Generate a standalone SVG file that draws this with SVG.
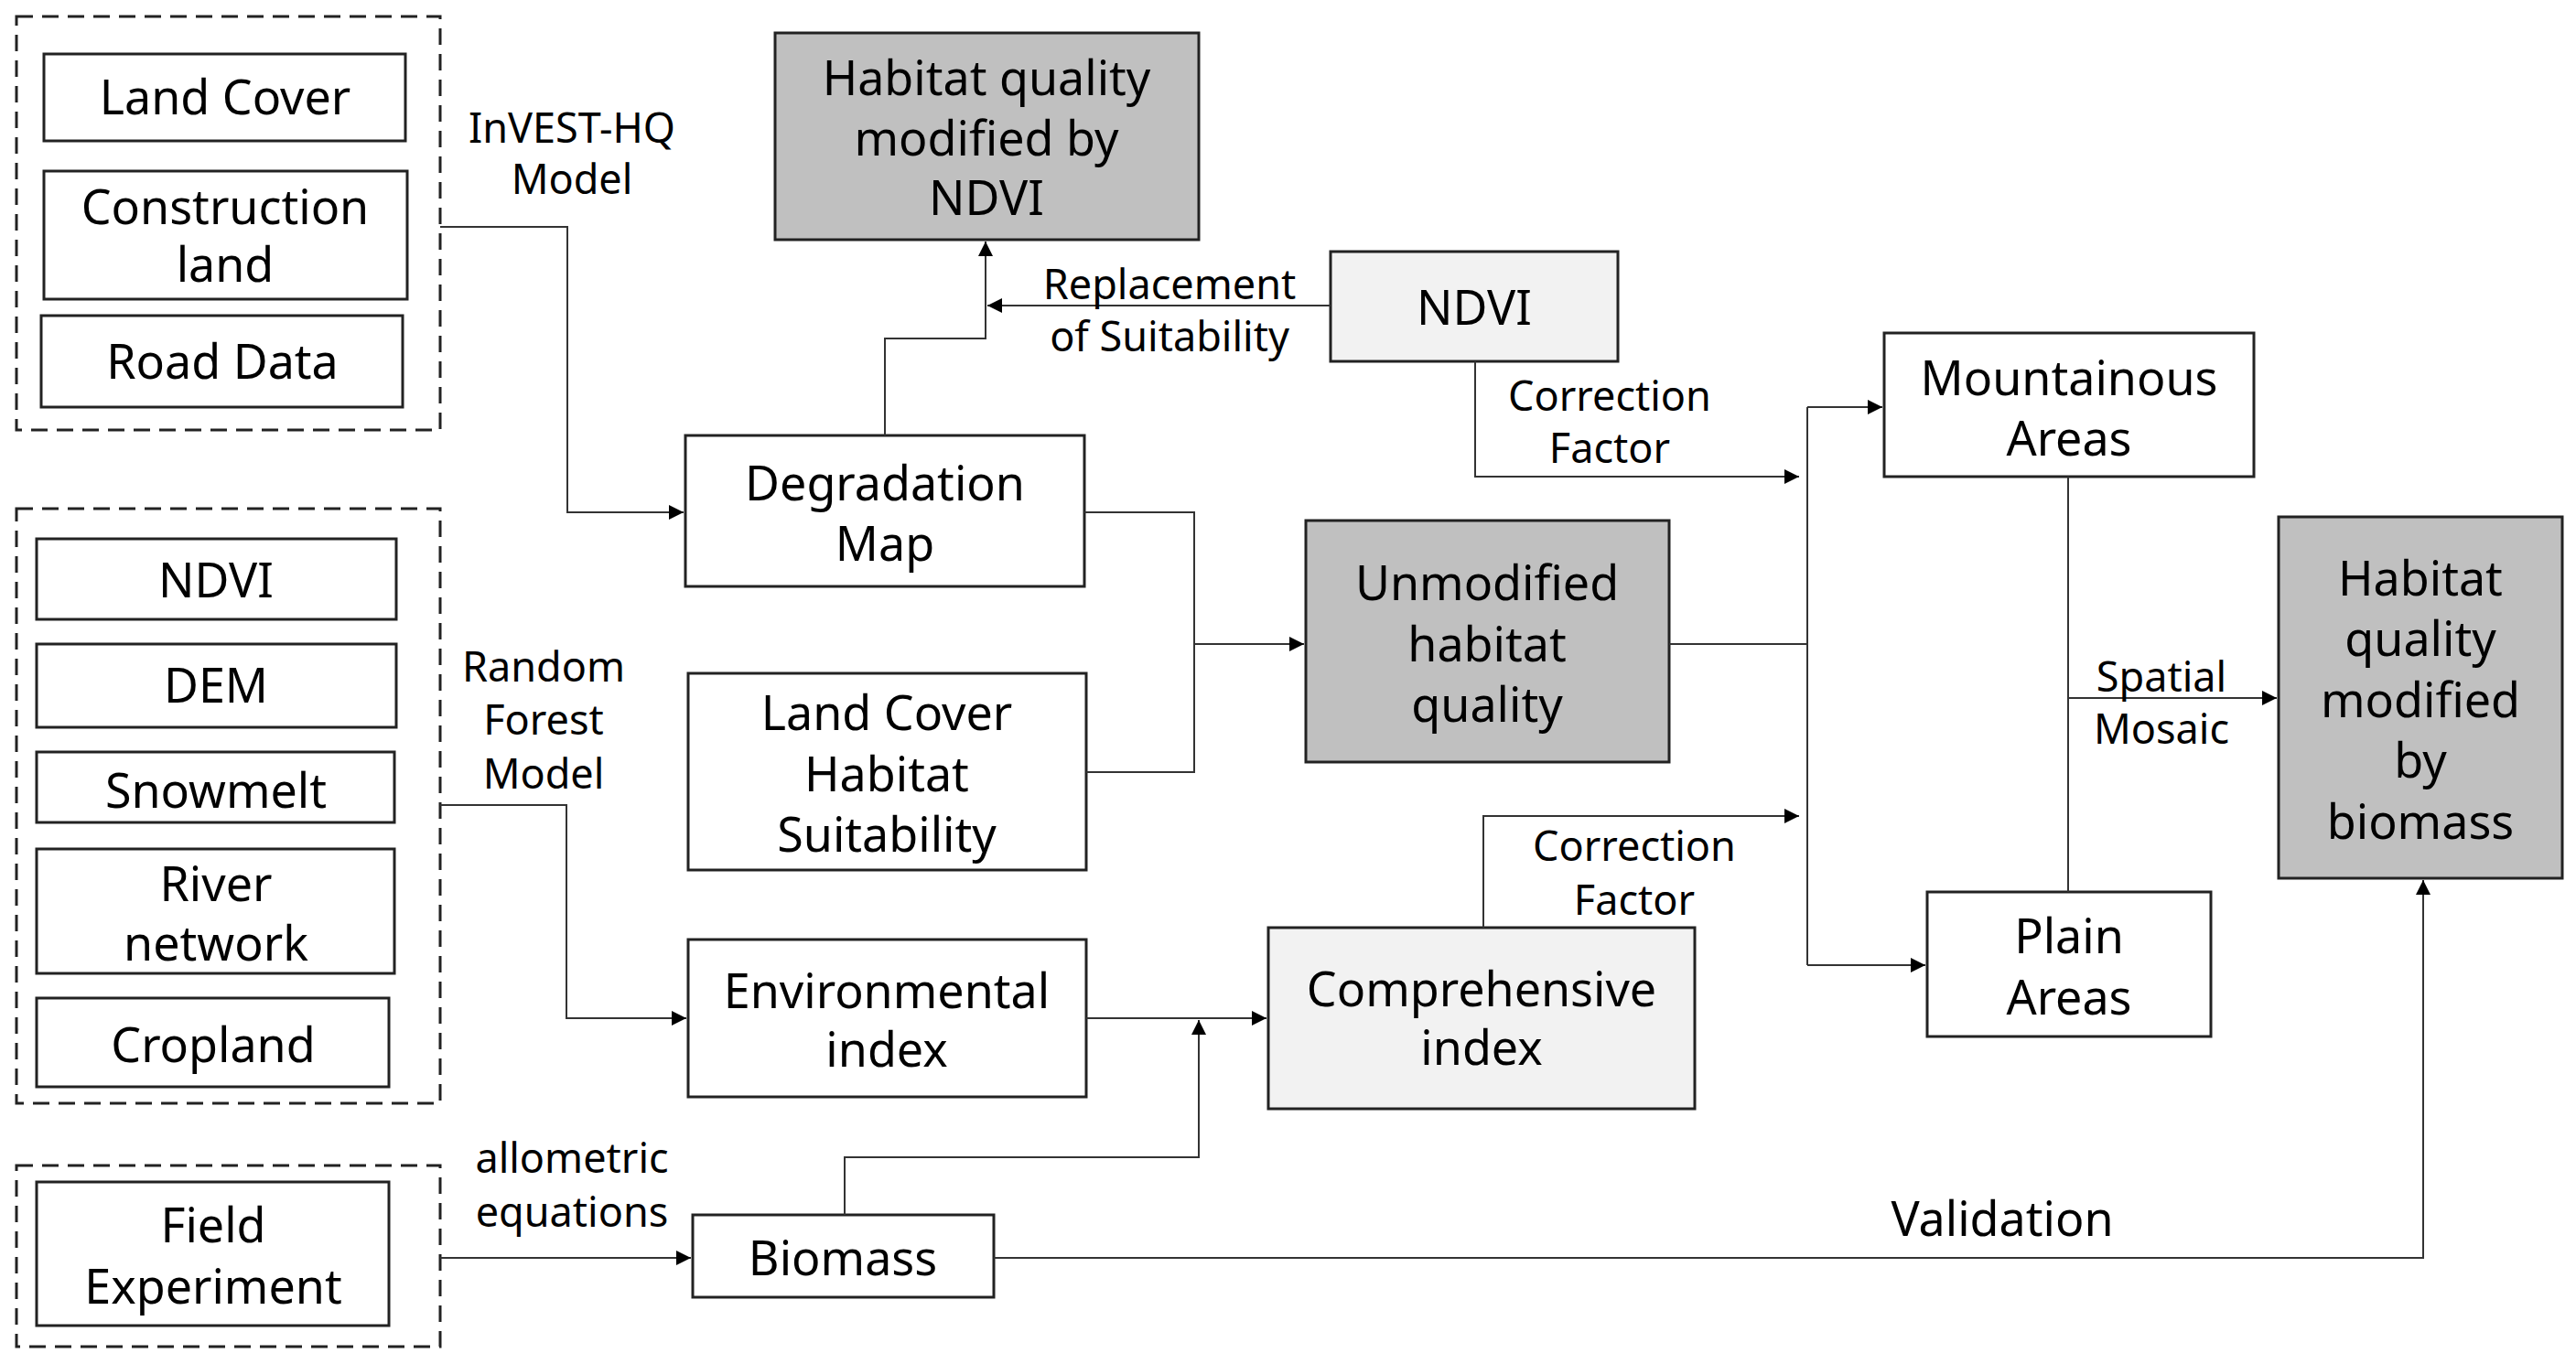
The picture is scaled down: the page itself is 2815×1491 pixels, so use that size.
<svg xmlns="http://www.w3.org/2000/svg" width="2815" height="1491" viewBox="0 0 2815 1491">
<style>
.b{fill:#fff;stroke:#222;stroke-width:3}
.d{fill:#c0c0c0;stroke:#222;stroke-width:3}
.l{fill:#f2f2f2;stroke:#222;stroke-width:3}
.g{fill:none;stroke:#222;stroke-width:3;stroke-dasharray:18 10}
.c{fill:none;stroke:#333;stroke-width:2}
text{font-family:"Noto Sans","Open Sans",sans-serif;fill:#000;text-anchor:middle;dominant-baseline:central}
.t{font-size:52px}
.s{font-size:45px}
</style>
<defs><marker id="a" viewBox="0 0 10 10" refX="10" refY="5" markerWidth="16" markerHeight="16" markerUnits="userSpaceOnUse" orient="auto"><path d="M0,0L10,5L0,10z" fill="#000"/></marker></defs>
<g id="group1"><rect class="g" x="18" y="18" width="463" height="452"/></g>
<g id="group2"><rect class="g" x="18" y="556" width="463" height="650"/></g>
<g id="group3"><rect class="g" x="18" y="1274" width="463" height="198"/></g>
<g id="landcover"><rect class="b" x="48" y="59" width="395" height="95"/><text class="t" x="246" y="104">Land Cover</text></g>
<g id="construction"><rect class="b" x="48" y="187" width="397" height="140"/><text class="t" x="246" y="224">Construction</text><text class="t" x="246" y="287">land</text></g>
<g id="road"><rect class="b" x="45" y="345" width="395" height="100"/><text class="t" x="243" y="393">Road Data</text></g>
<g id="ndvi1"><rect class="b" x="40" y="589" width="393" height="88"/><text class="t" x="236" y="632">NDVI</text></g>
<g id="dem"><rect class="b" x="40" y="704" width="393" height="91"/><text class="t" x="236" y="747">DEM</text></g>
<g id="snow"><rect class="b" x="40" y="822" width="391" height="77"/><text class="t" x="236" y="862">Snowmelt</text></g>
<g id="river"><rect class="b" x="40" y="928" width="391" height="136"/><text class="t" x="236" y="964">River</text><text class="t" x="236" y="1029">network</text></g>
<g id="crop"><rect class="b" x="40" y="1091" width="385" height="97"/><text class="t" x="233" y="1140">Cropland</text></g>
<g id="field"><rect class="b" x="40" y="1292" width="385" height="157"/><text class="t" x="233" y="1337">Field</text><text class="t" x="233" y="1404">Experiment</text></g>
<g id="hqndvi"><rect class="d" x="847" y="36" width="463" height="226"/><text class="t" x="1078" y="83">Habitat quality</text><text class="t" x="1078" y="149">modified by</text><text class="t" x="1078" y="214">NDVI</text></g>
<g id="degr"><rect class="b" x="749" y="476" width="436" height="165"/><text class="t" x="967" y="526">Degradation</text><text class="t" x="967" y="592">Map</text></g>
<g id="lchs"><rect class="b" x="752" y="736" width="435" height="215"/><text class="t" x="969" y="777">Land Cover</text><text class="t" x="969" y="844">Habitat</text><text class="t" x="969" y="910">Suitability</text></g>
<g id="env"><rect class="b" x="752" y="1027" width="435" height="172"/><text class="t" x="969" y="1081">Environmental</text><text class="t" x="969" y="1145">index</text></g>
<g id="biomass"><rect class="b" x="757" y="1328" width="329" height="90"/><text class="t" x="921" y="1373">Biomass</text></g>
<g id="ndvi2"><rect class="l" x="1454" y="275" width="314" height="120"/><text class="t" x="1611" y="334">NDVI</text></g>
<g id="unmod"><rect class="d" x="1427" y="569" width="397" height="264"/><text class="t" x="1625" y="635">Unmodified</text><text class="t" x="1625" y="702">habitat</text><text class="t" x="1625" y="768">quality</text></g>
<g id="comp"><rect class="l" x="1386" y="1014" width="466" height="198"/><text class="t" x="1619" y="1079">Comprehensive</text><text class="t" x="1619" y="1143">index</text></g>
<g id="mount"><rect class="b" x="2059" y="364" width="404" height="157"/><text class="t" x="2261" y="411">Mountainous</text><text class="t" x="2261" y="477">Areas</text></g>
<g id="plain"><rect class="b" x="2106" y="975" width="310" height="158"/><text class="t" x="2261" y="1021">Plain</text><text class="t" x="2261" y="1088">Areas</text></g>
<g id="hqbio"><rect class="d" x="2490" y="565" width="310" height="395"/><text class="t" x="2645" y="630">Habitat</text><text class="t" x="2645" y="696">quality</text><text class="t" x="2645" y="763">modified</text><text class="t" x="2645" y="829">by</text><text class="t" x="2645" y="896">biomass</text></g>
<g id="connectors">
<path class="c" d="M481,248H620V560H747" marker-end="url(#a)"/>
<path class="c" d="M967,476V370H1077V264" marker-end="url(#a)"/>
<path class="c" d="M1454,334H1079" marker-end="url(#a)"/>
<path class="c" d="M1185,560H1305V844H1187M1305,704H1425" marker-end="url(#a)"/>
<path class="c" d="M1612,395V521H1966" marker-end="url(#a)"/>
<path class="c" d="M1824,704H1975M1975,445V1055"/>
<path class="c" d="M1975,445H2057" marker-end="url(#a)"/>
<path class="c" d="M1975,1055H2104" marker-end="url(#a)"/>
<path class="c" d="M1621,1014V892H1966" marker-end="url(#a)"/>
<path class="c" d="M2260,521V975"/>
<path class="c" d="M2260,763H2488" marker-end="url(#a)"/>
<path class="c" d="M1187,1113H1384" marker-end="url(#a)"/>
<path class="c" d="M923,1328V1265H1310V1115" marker-end="url(#a)"/>
<path class="c" d="M481,880H619V1113H750" marker-end="url(#a)"/>
<path class="c" d="M481,1375H755" marker-end="url(#a)"/>
<path class="c" d="M1086,1375H2648V962" marker-end="url(#a)"/>
</g>
<g id="labels">
<text class="s" x="625" y="138">InVEST-HQ</text><text class="s" x="625" y="194">Model</text>
<text class="s" x="1278" y="309">Replacement</text><text class="s" x="1278" y="366">of Suitability</text>
<text class="s" x="1759" y="431">Correction</text><text class="s" x="1759" y="488">Factor</text>
<text class="s" x="594" y="727">Random</text><text class="s" x="594" y="785">Forest</text><text class="s" x="594" y="844">Model</text>
<text class="s" x="1786" y="923">Correction</text><text class="s" x="1786" y="982">Factor</text>
<text class="s" x="2362" y="738">Spatial</text><text class="s" x="2362" y="795">Mosaic</text>
<text class="s" x="625" y="1264">allometric</text><text class="s" x="625" y="1323">equations</text>
<text class="t" x="2188" y="1330">Validation</text>
</g>
</svg>
